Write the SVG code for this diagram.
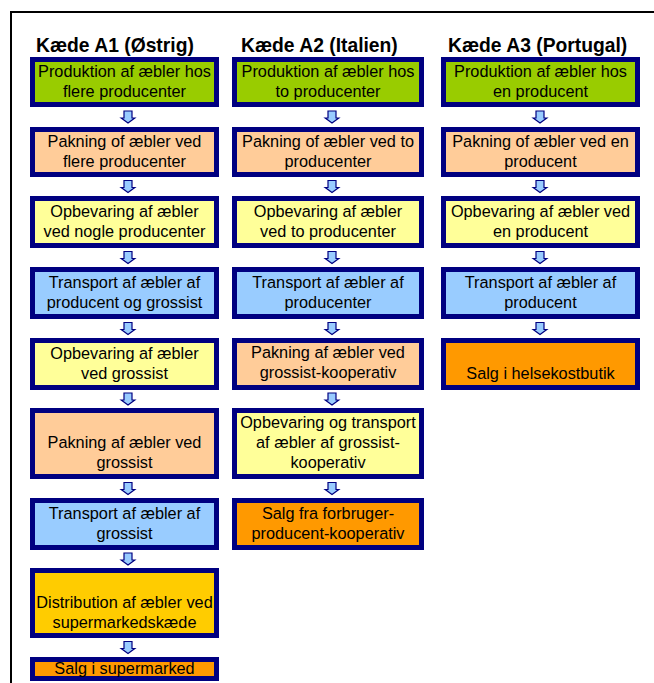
<svg xmlns="http://www.w3.org/2000/svg" width="654" height="683" viewBox="0 0 654 683">
<style>
.box{stroke:#000080;stroke-width:5}
.g{fill:#99CC00}.p{fill:#FFCC99}.y{fill:#FFFF99}.b{fill:#99CCFF}.o{fill:#FF9900}.d{fill:#FFCC00}
.t{font-family:"Liberation Sans",Arial,sans-serif;font-size:16.3px;fill:#000;text-anchor:middle}
.h{font-family:"Liberation Sans",Arial,sans-serif;font-size:19.3px;font-weight:bold;fill:#000}
.arr{fill:#99CCFF;stroke:#000080;stroke-width:1.2}
</style>
<defs>
<path id="ar" class="arr" d="M-4 -6 h8 v7 h2.8 l-6.8 5 l-6.8 -5 h2.8 z"/>
</defs>
<rect width="654" height="683" fill="#fff"/>
<path d="M11 683 V12 H654" fill="none" stroke="#000" stroke-width="2"/>

<g id="titles">
<text class="h" x="36" y="52">Kæde A1 (Østrig)</text>
<text class="h" x="241" y="52">Kæde A2 (Italien)</text>
<text class="h" x="448" y="52">Kæde A3 (Portugal)</text>
</g>

<g id="connectors">
<use href="#ar" x="128" y="117"/>
<use href="#ar" x="128" y="186.5"/>
<use href="#ar" x="128" y="257.5"/>
<use href="#ar" x="128" y="328.5"/>
<use href="#ar" x="128" y="399"/>
<use href="#ar" x="128" y="488.5"/>
<use href="#ar" x="128" y="559"/>
<use href="#ar" x="128" y="647.5"/>
<use href="#ar" x="332" y="117"/>
<use href="#ar" x="332" y="186.5"/>
<use href="#ar" x="332" y="257.5"/>
<use href="#ar" x="332" y="328.5"/>
<use href="#ar" x="332" y="399"/>
<use href="#ar" x="332" y="488.5"/>
<use href="#ar" x="540" y="117"/>
<use href="#ar" x="540" y="186.5"/>
<use href="#ar" x="540" y="257.5"/>
<use href="#ar" x="540" y="328.5"/>
</g>

<!-- Column A1 -->
<g id="a1-1"><rect class="box g" x="32.5" y="59.5" width="184" height="45"/>
<text class="t" x="124.5" y="77">Produktion af æbler hos</text><text class="t" x="124.5" y="97">flere producenter</text></g>
<g id="a1-2"><rect class="box p" x="32.5" y="129.5" width="184" height="45"/>
<text class="t" x="124.5" y="147">Pakning of æbler ved</text><text class="t" x="124.5" y="167">flere producenter</text></g>
<g id="a1-3"><rect class="box y" x="32.5" y="198.5" width="184" height="47"/>
<text class="t" x="124.5" y="217">Opbevaring af æbler</text><text class="t" x="124.5" y="237">ved nogle producenter</text></g>
<g id="a1-4"><rect class="box b" x="32.5" y="269.5" width="184" height="47"/>
<text class="t" x="124.5" y="288">Transport af æbler af</text><text class="t" x="124.5" y="308">producent og grossist</text></g>
<g id="a1-5"><rect class="box y" x="32.5" y="340.5" width="184" height="47"/>
<text class="t" x="124.5" y="359">Opbevaring af æbler</text><text class="t" x="124.5" y="379">ved grossist</text></g>
<g id="a1-6"><rect class="box p" x="32.5" y="410.5" width="184" height="66"/>
<text class="t" x="124.5" y="448">Pakning af æbler ved</text><text class="t" x="124.5" y="468">grossist</text></g>
<g id="a1-7"><rect class="box b" x="32.5" y="500.5" width="184" height="47"/>
<text class="t" x="124.5" y="519">Transport af æbler af</text><text class="t" x="124.5" y="539">grossist</text></g>
<g id="a1-8"><rect class="box d" x="32.5" y="570.5" width="184" height="65"/>
<text class="t" x="124.5" y="608">Distribution af æbler ved</text><text class="t" x="124.5" y="628">supermarkedskæde</text></g>
<g id="a1-9"><rect class="box o" x="32.5" y="659.5" width="184" height="19"/>
<text class="t" x="124.5" y="674">Salg i supermarked</text></g>

<!-- Column A2 -->
<g id="a2-1"><rect class="box g" x="234.5" y="59.5" width="187" height="45"/>
<text class="t" x="328" y="77">Produktion af æbler hos</text><text class="t" x="328" y="97">to producenter</text></g>
<g id="a2-2"><rect class="box p" x="234.5" y="129.5" width="187" height="45"/>
<text class="t" x="328" y="147">Pakning of æbler ved to</text><text class="t" x="328" y="167">producenter</text></g>
<g id="a2-3"><rect class="box y" x="234.5" y="198.5" width="187" height="47"/>
<text class="t" x="328" y="217">Opbevaring af æbler</text><text class="t" x="328" y="237">ved to producenter</text></g>
<g id="a2-4"><rect class="box b" x="234.5" y="269.5" width="187" height="47"/>
<text class="t" x="328" y="288">Transport af æbler af</text><text class="t" x="328" y="308">producenter</text></g>
<g id="a2-5"><rect class="box p" x="234.5" y="340.5" width="187" height="47"/>
<text class="t" x="328" y="358">Pakning af æbler ved</text><text class="t" x="328" y="378">grossist-kooperativ</text></g>
<g id="a2-6"><rect class="box y" x="234.5" y="410.5" width="187" height="66"/>
<text class="t" x="328" y="428">Opbevaring og transport</text><text class="t" x="328" y="448">af æbler af grossist-</text><text class="t" x="328" y="468">kooperativ</text></g>
<g id="a2-7"><rect class="box o" x="234.5" y="500.5" width="187" height="47"/>
<text class="t" x="328" y="519">Salg fra forbruger-</text><text class="t" x="328" y="539">producent-kooperativ</text></g>

<!-- Column A3 -->
<g id="a3-1"><rect class="box g" x="443.5" y="59.5" width="194" height="45"/>
<text class="t" x="540.5" y="77">Produktion af æbler hos</text><text class="t" x="540.5" y="97">en producent</text></g>
<g id="a3-2"><rect class="box p" x="443.5" y="129.5" width="194" height="45"/>
<text class="t" x="540.5" y="147">Pakning of æbler ved en</text><text class="t" x="540.5" y="167">producent</text></g>
<g id="a3-3"><rect class="box y" x="443.5" y="198.5" width="194" height="47"/>
<text class="t" x="540.5" y="217">Opbevaring af æbler ved</text><text class="t" x="540.5" y="237">en producent</text></g>
<g id="a3-4"><rect class="box b" x="443.5" y="269.5" width="194" height="47"/>
<text class="t" x="540.5" y="288">Transport af æbler af</text><text class="t" x="540.5" y="308">producent</text></g>
<g id="a3-5"><rect class="box o" x="443.5" y="340.5" width="194" height="47"/>
<text class="t" x="540.5" y="379">Salg i helsekostbutik</text></g>
</svg>
